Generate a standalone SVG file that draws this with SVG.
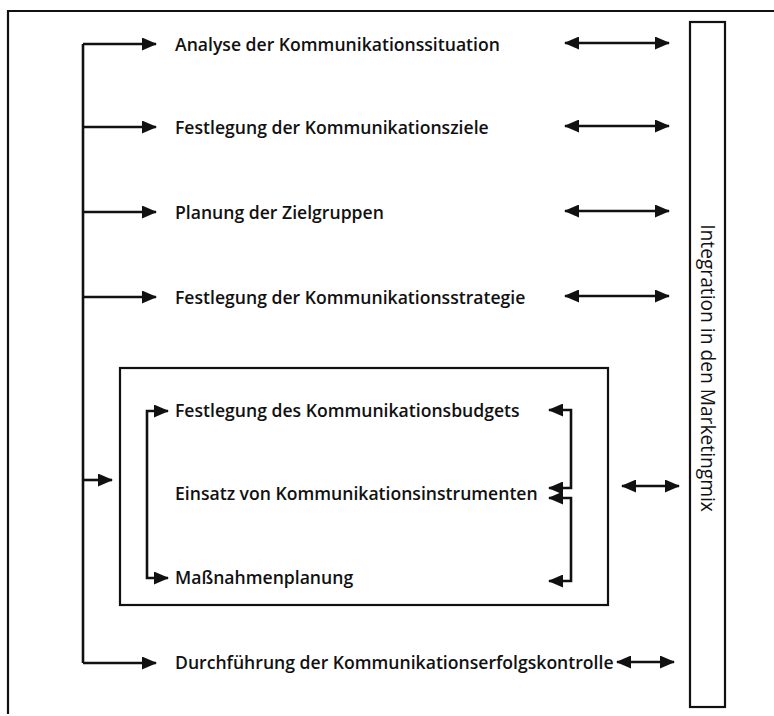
<svg xmlns="http://www.w3.org/2000/svg" width="774" height="716" viewBox="0 0 774 716">
<defs>
<marker id="ah" viewBox="0 0 15 13" refX="14" refY="6.5" markerWidth="15" markerHeight="13" markerUnits="userSpaceOnUse" orient="auto-start-reverse">
<path d="M0,0 L15,6.5 L0,13 z" fill="#111"/>
</marker>
<style>
.lbl{font-family:"Open Sans","Liberation Sans",sans-serif;font-weight:600;font-size:17.6px;fill:#111}
.side{font-family:"Open Sans","Liberation Sans",sans-serif;font-weight:500;font-size:19.2px;fill:#111}
.ln{stroke:#111;stroke-width:2.6;fill:none}
.a{marker-end:url(#ah)}
.d{marker-start:url(#ah);marker-end:url(#ah)}
.box{stroke:#111;stroke-width:2.2;fill:none}
</style>
</defs>
<rect width="774" height="716" fill="#fff"/>
<g id="frame">
<path d="M8,714 L8,11 L774,11" class="box" stroke-width="2.8"/>
</g>
<g id="connectors">
<path class="ln" d="M83,44 L83,663"/>
<path class="ln a" d="M83,44 L156,44"/>
<path class="ln a" d="M83,127 L156,127"/>
<path class="ln a" d="M83,212 L156,212"/>
<path class="ln a" d="M83,297 L156,297"/>
<path class="ln a" d="M83,480 L112,480"/>
<path class="ln a" d="M83,663 L156,663"/>
<path class="ln d" d="M168,411 L147,411 L147,578 L168,578"/>
<path class="ln d" d="M549,410 L571,410 L571,488 L549,488"/>
<path class="ln d" d="M549,498 L571,498 L571,581 L549,581"/>
<path class="ln d" d="M565,43 L669,43"/>
<path class="ln d" d="M565,126 L669,126"/>
<path class="ln d" d="M565,211 L669,211"/>
<path class="ln d" d="M565,296 L669,296"/>
<path class="ln d" d="M622,486 L679,486"/>
<path class="ln d" d="M617,662 L674,662"/>
</g>
<g id="n1"><text class="lbl" x="175" y="51">Analyse der Kommunikationssituation</text></g>
<g id="n2"><text class="lbl" x="175" y="134">Festlegung der Kommunikationsziele</text></g>
<g id="n3"><text class="lbl" x="175" y="219">Planung der Zielgruppen</text></g>
<g id="n4"><text class="lbl" x="175" y="304">Festlegung der Kommunikationsstrategie</text></g>
<g id="n5">
<rect class="box" x="120" y="368" width="488" height="237"/>
</g>
<g id="n6"><text class="lbl" x="175" y="417">Festlegung des Kommunikationsbudgets</text></g>
<g id="n7"><text class="lbl" x="175" y="500">Einsatz von Kommunikationsinstrumenten</text></g>
<g id="n8"><text class="lbl" x="175" y="584">Maßnahmenplanung</text></g>
<g id="n9"><text class="lbl" x="175" y="669">Durchführung der Kommunikationserfolgskontrolle</text></g>
<g id="n10">
<rect class="box" x="690" y="22" width="35" height="685"/>
<text class="side" transform="translate(701,368) rotate(90)" text-anchor="middle">Integration in den Marketingmix</text>
</g>
</svg>
